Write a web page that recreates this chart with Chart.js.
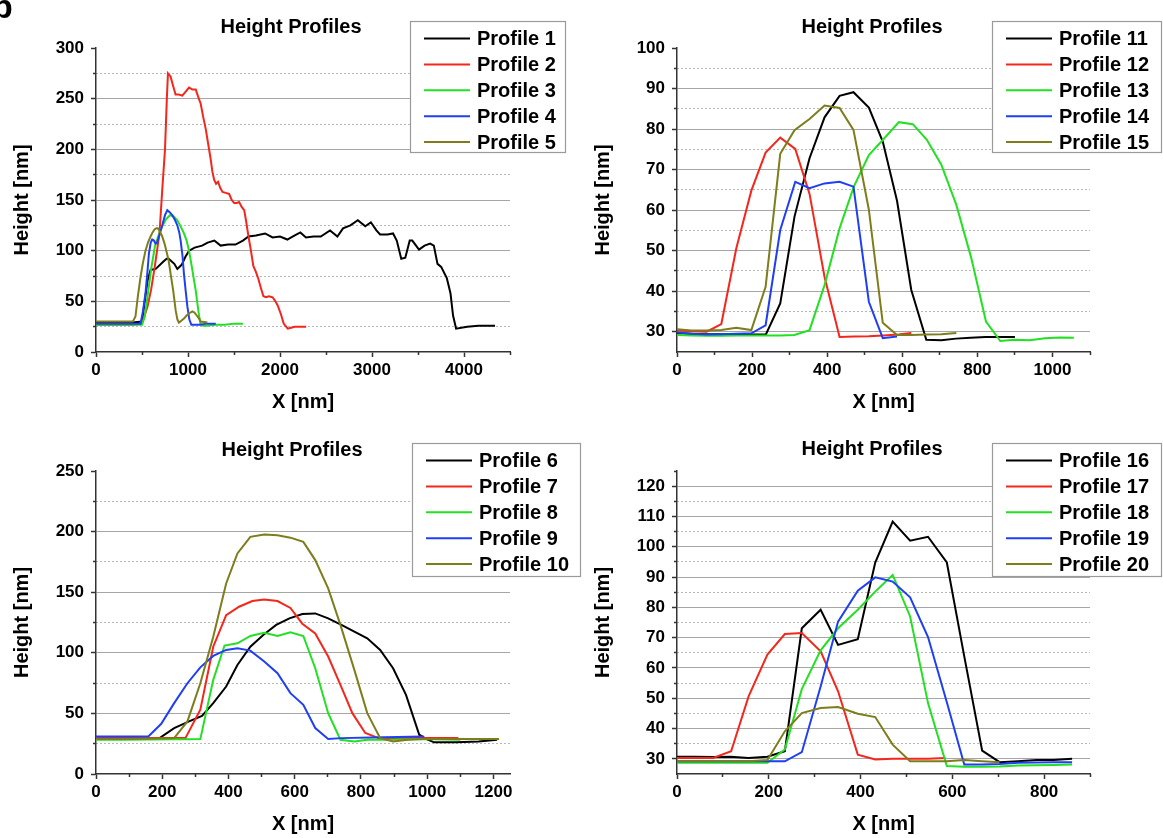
<!DOCTYPE html>
<html><head><meta charset="utf-8">
<script src="https://cdn.jsdelivr.net/npm/chart.js@4.4.1/dist/chart.umd.min.js"></script>
<style>
html,body{margin:0;padding:0;background:#fff;}
body{width:1163px;height:838px;position:relative;overflow:hidden;}
canvas{position:absolute;left:0;top:0;}
</style></head><body>
<canvas id="c1" width="1163" height="838"></canvas>
<canvas id="c2" width="1163" height="838"></canvas>
<canvas id="c3" width="1163" height="838"></canvas>
<canvas id="c4" width="1163" height="838"></canvas>
<script>
// ---------- DATA ----------
const titleText = 'Height Profiles';
const xTitle = 'X [nm]';
const yTitle = 'Height [nm]';
const colors = ['#000000', '#f5261b', '#22e022', '#1f3ff5', '#7d7d1c'];

// Panel A (top-left)
const aXTicks = [0, 1000, 2000, 3000, 4000];
const aXMinor = [500, 1500, 2500, 3500, 4500];
const aYTicks = [0, 50, 100, 150, 200, 250, 300];
const aYMinor = [25, 75, 125, 175, 225, 275];
const p1x = [0,100,200,300,400,500,560,593,649,730,767,790,851,884,931,972,1012,1072,1153,1214,1286,1355,1435,1516,1597,1657,1738,1838,1919,2000,2080,2141,2221,2282,2363,2443,2544,2624,2685,2765,2846,2927,2988,3048,3088,3169,3229,3269,3318,3362,3410,3438,3511,3571,3632,3672,3712,3752,3813,3853,3881,3914,4035,4156,4337];
const p1y = [29,29,29,29,29,30,70,81,82,89,92,92,87,82,86,94,100,103,105,108,110,105,106,106,110,114,115,117,113,114,111,114,118,113,114,114,120,114,122,125,130,124,128,120,116,116,117,110,92,93,110,110,101,105,107,105,87,84,73,58,36,23,25,26,26];
const p2x = [0,100,200,300,400,500,560,600,640,690,720,750,770,782,810,840,865,900,938,975,1011,1050,1084,1110,1138,1165,1193,1220,1247,1265,1284,1305,1327,1350,1375,1410,1447,1475,1502,1530,1556,1585,1611,1630,1647,1665,1684,1710,1738,1765,1793,1820,1847,1880,1920,1950,1975,2011,2040,2084,2120,2160,2200,2284];
const p2y = [27,27,27,27,27,28,45,62,85,117,160,200,250,275,272,262,254,254,253,257,261,259,259,252,245,232,220,205,190,178,170,166,168,162,158,157,156,150,147,147,148,143,140,130,120,110,100,85,79,72,63,55,54,55,54,50,46,37,28,23,24,25,25,25];
const p3x = [0,100,200,300,400,500,530,560,600,640,680,720,760,804,840,884,920,956,985,1011,1040,1065,1085,1102,1120,1135,1165,1200,1300,1400,1500,1597];
const p3y = [27,27,27,27,27,27,35,55,82,104,115,124,131,135,134,130,124,117,110,100,85,71,60,48,36,28,26,26,27,27,28,28];
const p4x = [0,100,200,300,400,484,510,538,560,575,595,611,630,647,665,684,720,750,775,800,829,860,884,905,920,940,956,975,993,1015,1036,1100,1138,1200,1302];
const p4y = [28,28,28,28,28,28,40,58,80,97,108,111,110,107,108,114,125,135,140,138,135,130,125,118,110,95,77,60,45,32,27,27,27,28,28];
const p5x = [0,100,200,300,400,429,455,484,510,538,565,593,615,636,655,673,695,720,745,767,790,811,840,866,885,902,930,956,985,1011,1047,1070,1095,1120,1138,1211];
const p5y = [30,30,30,30,30,35,55,74,88,100,108,114,118,121,122,122,119,114,107,99,90,77,60,41,32,29,31,33,36,38,40,39,36,33,30,29];

// Panel B (top-right)
const bXTicks = [0, 200, 400, 600, 800, 1000];
const bXMinor = [100, 300, 500, 700, 900, 1100];
const bYTicks = [30, 40, 50, 60, 70, 80, 90, 100];
const bYMinor = [35, 45, 55, 65, 75, 85, 95];
const p11x = [0,39,79,118,158,197,237,275,313,353,393,433,470,511,548,586,624,664,704,743,782,822,861,900];
const p11y = [29.6,29.5,29.4,29.4,29.3,29.3,29.4,37,58.4,72.8,82.9,88.2,89.1,85.3,76.9,62.3,40.3,28.0,27.9,28.3,28.5,28.7,28.7,28.7];
const p12x = [0,39,79,118,158,198,236,275,315,353,393,433,472,511,550,590,624];
const p12y = [30.3,30.1,30.0,31.9,50.6,64.8,74.2,77.9,75.1,64,43.5,28.7,28.8,28.9,29.1,29.3,29.7];
const p13x = [0,39,79,118,158,197,236,275,313,353,393,433,471,511,548,591,628,665,704,744,784,823,861,900,940,980,1020,1057];
const p13y = [29.2,29.1,29.0,29.0,29.1,29.1,29.1,29.1,29.2,30.4,41.5,55.5,65.8,73.6,77.3,81.7,81.2,77.4,71.2,61.3,48.1,32.5,27.7,28.0,27.9,28.4,28.6,28.5];
const p14x = [0,39,79,118,158,198,236,275,315,353,393,433,470,511,548,586];
const p14y = [29.8,29.5,29.3,29.4,29.5,29.6,31.6,55.1,67.0,65.4,66.6,67.0,65.8,37.4,28.4,28.8];
const p15x = [0,39,79,118,158,198,236,275,313,353,393,433,470,511,548,586,625,665,704,744];
const p15y = [30.6,30.3,30.3,30.4,31.0,30.4,41.1,73.9,79.7,82.5,85.8,85.2,79.8,60.1,32.2,29.2,29.2,29.3,29.4,29.7];

// Panel C (bottom-left)
const cXTicks = [0, 200, 400, 600, 800, 1000, 1200];
const cXMinor = [100, 300, 500, 700, 900, 1100];
const cYTicks = [0, 50, 100, 150, 200, 250];
const cYMinor = [25, 75, 125, 175, 225];
const p6x = [0,39,79,118,158,192,236,281,320,354,393,427,466,505,544,584,623,662,701,741,780,819,858,897,936,976,998,1021,1088,1155,1211];
const p6y = [28.8,28.8,28.8,28.8,28.8,29.6,37.9,43.4,48,58.5,72.2,90,105,114.7,123,128.4,132,132.5,128.4,123,117.5,112,102.4,87.3,65.3,32.4,28.8,26.1,26.1,26.9,28.3];
const p7x = [0,79,158,236,270,315,354,393,432,472,508,548,587,623,662,701,738,774,813,853,942,1094];
const p7y = [29.6,29.6,29.6,29.6,29.6,53,105,131,138,142.7,144,142.7,137,124,116,96.9,73.5,50.2,33.8,29.6,29.6,29.6];
const p8x = [0,79,158,236,276,315,354,388,427,466,508,548,587,626,662,701,738,780,819,897,987,1100];
const p8y = [28.3,28.3,28.5,28.6,28.7,28.8,77.7,106,107.8,113.9,116.6,113.9,116.9,113.9,87.3,50.2,28.3,26.9,28.3,28.3,28.8,28.3];
const p9x = [0,79,158,197,236,276,315,354,393,427,466,508,548,587,626,662,701,741,830,990];
const p9y = [31,31,31,41.4,58.5,74.9,88,97.4,102.4,103.7,101.8,92.8,83.1,66.7,57.1,37.9,28.8,29.6,30.2,31];
const p10x = [0,79,158,236,276,315,354,393,427,466,508,548,587,626,662,701,738,780,819,858,897,942,987,1100,1217];
const p10y = [28.8,28.8,29,29.6,43.4,74.9,113.3,157.2,182,195.7,197.6,197,195,191.5,176.5,153.1,123,85.9,50.2,29.6,26.9,28.3,28.8,28.8,28.8];

// Panel D (bottom-right)
const dXTicks = [0, 200, 400, 600, 800];
const dXMinor = [100, 300, 500, 700, 900];
const dYTicks = [30, 40, 50, 60, 70, 80, 90, 100, 110, 120];
const dYMinor = [35, 45, 55, 65, 75, 85, 95, 105, 115, 125];
const p16x = [0,39,79,117,156,197,235,272,313,351,394,432,470,508,547,588,626,665,703,743,784,820,861];
const p16y = [30.7,30.7,30.6,30.7,30.3,30.7,32.5,73.1,79.2,67.6,69.5,94.8,108.3,102,103.3,94.8,63.8,32.7,28.9,29.2,29.6,29.6,30];
const p17x = [0,39,79,118,156,197,235,272,313,351,394,432,470,508,547,585];
const p17y = [30.3,30.3,30.3,32.5,50.6,64.4,71.2,71.5,65.5,52.3,31.4,29.8,30,30,30,30.3];
const p18x = [0,39,79,117,156,197,235,272,313,351,394,432,470,508,547,588,626,665,703,743,784,820,861];
const p18y = [28.7,28.7,28.7,28.7,28.7,28.7,33.1,53,65.8,73.1,79.2,85.2,90.7,77,48.4,27.6,27.4,27.4,27.5,27.8,27.9,28,28.1];
const p19x = [0,39,79,117,156,197,235,272,313,351,394,432,470,508,547,588,626,665,703,743,784,820,861];
const p19y = [29.2,29.2,29.2,29.2,29.2,29.2,29.2,32.2,53.9,75.3,85.5,89.9,88.5,83.3,70.2,48.7,28.1,28.1,28.3,28.7,28.8,28.9,28.9];
const p20x = [0,39,79,117,156,197,235,272,313,351,394,432,470,508,547,588,626,665,703];
const p20y = [29.2,29.2,29.2,29.2,29.2,29.6,39.1,45.1,46.8,47.1,44.9,43.8,34.7,29.2,29.2,29.2,29.6,29.2,28.9];

// ---------- LAYOUT ----------
const FF = "'Liberation Sans', Arial, Helvetica, sans-serif";
const W = 1163, H = 838, YW = 88, XH = 64;

const panels = [
  {id:'c1', area:{l:96,r:510,t:48,b:352}, xr:[0,4500], yr:[0,300], xT:aXTicks, xM:aXMinor, yT:aYTicks, yM:aYMinor,
   title:{x:291,y:27}, legend:{l:410,t:21,w:155,h:131}, label:true,
   series:[['Profile 1',p1x,p1y],['Profile 2',p2x,p2y],['Profile 3',p3x,p3y],['Profile 4',p4x,p4y],['Profile 5',p5x,p5y]]},
  {id:'c2', area:{l:677,r:1090,t:48,b:352}, xr:[0,1100], yr:[25,100], xT:bXTicks, xM:bXMinor, yT:bYTicks, yM:bYMinor,
   title:{x:872,y:27}, legend:{l:992,t:21,w:169,h:131},
   series:[['Profile 11',p11x,p11y],['Profile 12',p12x,p12y],['Profile 13',p13x,p13y],['Profile 14',p14x,p14y],['Profile 15',p15x,p15y]]},
  {id:'c3', area:{l:96,r:510,t:471,b:774}, xr:[0,1250], yr:[0,250], xT:cXTicks, xM:cXMinor, yT:cYTicks, yM:cYMinor,
   title:{x:292,y:450}, legend:{l:412,t:443,w:168,h:133},
   series:[['Profile 6',p6x,p6y],['Profile 7',p7x,p7y],['Profile 8',p8x,p8y],['Profile 9',p9x,p9y],['Profile 10',p10x,p10y]]},
  {id:'c4', area:{l:677,r:1090,t:471,b:774}, xr:[0,900], yr:[25,125], xT:dXTicks, xM:dXMinor, yT:dYTicks, yM:dYMinor,
   title:{x:872,y:449}, legend:{l:992,t:443,w:169,h:133},
   series:[['Profile 16',p16x,p16y],['Profile 17',p17x,p17y],['Profile 18',p18x,p18y],['Profile 19',p19x,p19y],['Profile 20',p20x,p20y]]}
];

const pts = (xs, ys) => xs.map((x, i) => ({x: x, y: ys[i]}));

const overlay = {
  id: 'overlay',
  afterDraw(chart, args, opts) {
    const p = opts.panel; const ctx = chart.ctx;
    ctx.save();
    ctx.fillStyle = '#000';
    ctx.font = 'bold 20px ' + FF;
    ctx.textAlign = 'center'; ctx.textBaseline = 'middle';
    ctx.fillText(titleText, p.title.x, p.title.y);
    const L = p.legend;
    ctx.fillStyle = '#fff'; ctx.fillRect(L.l, L.t, L.w, L.h);
    ctx.strokeStyle = '#9a9a9a'; ctx.lineWidth = 1.2;
    ctx.strokeRect(L.l + 0.5, L.t + 0.5, L.w, L.h);
    chart.data.datasets.forEach((ds, i) => {
      const y = L.t + 17.5 + i * 25.9;
      ctx.strokeStyle = ds.borderColor; ctx.lineWidth = 2;
      ctx.beginPath(); ctx.moveTo(L.l + 14, y); ctx.lineTo(L.l + 60, y); ctx.stroke();
      ctx.fillStyle = '#000'; ctx.textAlign = 'left';
      ctx.fillText(ds.label, L.l + 67, y + 1);
    });
    if (p.label) {
      ctx.font = 'bold 34px ' + FF; ctx.textAlign = 'left'; ctx.textBaseline = 'alphabetic';
      ctx.fillText('b', -8, 18);
    }
    ctx.restore();
  }
};

const tickFont = {family: FF, size: 17, weight: 'bold'};
const titleFont = {family: FF, size: 20, weight: 'bold'};

panels.forEach(p => {
  const datasets = p.series.map((s, i) => ({
    label: s[0], data: pts(s[1], s[2]), borderColor: colors[i], backgroundColor: colors[i],
    borderWidth: 2, pointRadius: 0, tension: 0, fill: false, order: 10 - i,
    xAxisID: 'x', yAxisID: 'y'
  }));
  const [xmin, xmax] = p.xr, [ymin, ymax] = p.yr;
  new Chart(document.getElementById(p.id), {
    type: 'line',
    data: {datasets},
    options: {
      responsive: false, animation: false, devicePixelRatio: 1, events: [],
      layout: {padding: {left: p.area.l - YW, right: W - p.area.r, top: p.area.t, bottom: H - p.area.b - XH}},
      plugins: {legend: {display: false}, title: {display: false}, tooltip: {enabled: false}, overlay: {panel: p}},
      scales: {
        x: {type: 'linear', position: 'bottom', min: xmin, max: xmax, weight: 0,
          afterBuildTicks: a => { a.ticks = p.xT.map(v => ({value: v})); },
          afterFit: a => { a.height = XH; },
          ticks: {font: tickFont, color: '#000', padding: 3, maxRotation: 0, autoSkip: false, callback: v => String(v)},
          grid: {drawOnChartArea: false, drawTicks: true, tickLength: 5, tickColor: '#333', tickWidth: 1.5},
          border: {display: true, color: '#333', width: 1.5},
          title: {display: true, text: xTitle, color: '#000', font: titleFont, padding: {top: 0, bottom: 2}}
        },
        xm: {type: 'linear', position: 'bottom', min: xmin, max: xmax, weight: -1,
          afterBuildTicks: a => { a.ticks = p.xM.map(v => ({value: v})); },
          afterFit: a => { a.height = 0; },
          ticks: {display: false},
          grid: {drawOnChartArea: false, drawTicks: true, tickLength: 3, tickColor: '#333', tickWidth: 1.5},
          border: {display: false}
        },
        y: {type: 'linear', position: 'left', min: ymin, max: ymax, weight: 0,
          afterBuildTicks: a => { a.ticks = p.yT.map(v => ({value: v})); },
          afterFit: a => { a.width = YW; },
          ticks: {font: tickFont, color: '#000', padding: 7, autoSkip: false, callback: v => String(v)},
          grid: {drawOnChartArea: true, drawTicks: true, tickLength: 5, tickColor: '#333', tickWidth: 1.5, lineWidth: 1,
            color: c => (c.tick && (c.tick.value === ymax || c.tick.value === ymin)) ? 'rgba(0,0,0,0)' : '#a6a6a6'},
          border: {display: true, color: '#333', width: 1.5},
          title: {display: true, text: yTitle, color: '#000', font: titleFont, padding: {top: 2, bottom: 0}}
        },
        ym: {type: 'linear', position: 'left', min: ymin, max: ymax, weight: -1,
          afterBuildTicks: a => { a.ticks = p.yM.map(v => ({value: v})); },
          afterFit: a => { a.width = 0; },
          ticks: {display: false},
          grid: {drawOnChartArea: true, drawTicks: true, tickLength: 3, tickColor: '#333', tickWidth: 1.5, lineWidth: 1,
            color: c => (c.tick && c.tick.value >= ymax) ? 'rgba(0,0,0,0)' : '#b8b8b8'},
          border: {display: false, dash: [2, 2]}
        }
      }
    },
    plugins: [overlay]
  });
});
</script>
</body></html>
